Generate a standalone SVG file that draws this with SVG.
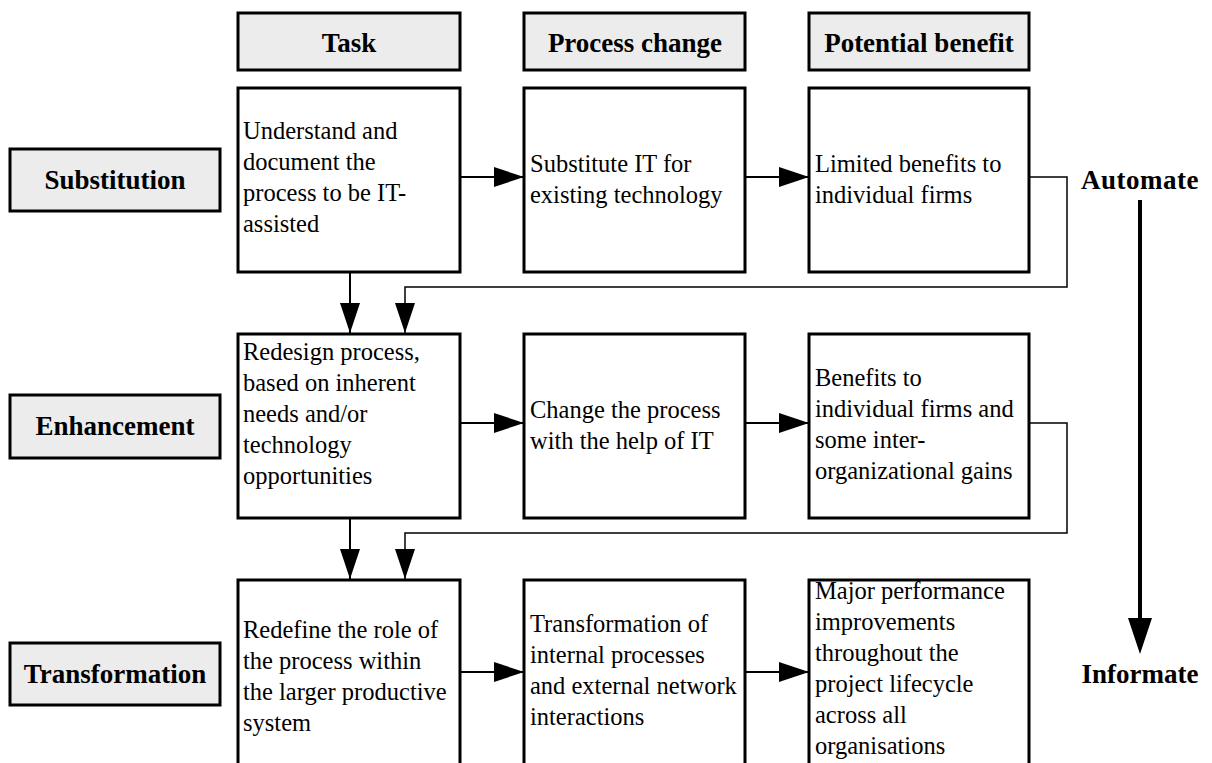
<svg xmlns="http://www.w3.org/2000/svg" width="1212" height="763" viewBox="0 0 1212 763">
<defs>
<style>
.hdr{fill:#ececec;stroke:#000;stroke-width:3}
.box{fill:#fff;stroke:#000;stroke-width:3}
.bt{font-family:"Liberation Serif","Times New Roman",serif;font-weight:bold;font-size:27px;fill:#000}
.tx{font-family:"Liberation Serif","Times New Roman",serif;font-size:24.5px;fill:#000}
.ar{fill:none;stroke:#000;stroke-width:2}
.fb{fill:none;stroke:#000;stroke-width:1.5}
</style>
<marker id="ah" markerUnits="userSpaceOnUse" markerWidth="30" markerHeight="20" refX="30" refY="10" orient="auto" viewBox="0 0 30 20">
<path d="M0,0 L30,10 L0,20 z" fill="#000"/>
</marker>
</defs>
<rect width="1212" height="763" fill="#fff"/>

<g id="hdr-task"><rect class="hdr" x="238" y="13" width="222" height="57"/><text class="bt" x="349" y="52" text-anchor="middle">Task</text></g>
<g id="hdr-process"><rect class="hdr" x="524" y="13" width="221" height="57"/><text class="bt" x="635" y="52" text-anchor="middle">Process change</text></g>
<g id="hdr-benefit"><rect class="hdr" x="809" y="13" width="220" height="57"/><text class="bt" x="919" y="52" text-anchor="middle">Potential benefit</text></g>

<g id="lbl-substitution"><rect class="hdr" x="10" y="149" width="210" height="62"/><text class="bt" x="115" y="189" text-anchor="middle">Substitution</text></g>
<g id="lbl-enhancement"><rect class="hdr" x="10" y="395" width="210" height="63"/><text class="bt" x="115" y="435" text-anchor="middle">Enhancement</text></g>
<g id="lbl-transformation"><rect class="hdr" x="10" y="643" width="210" height="62"/><text class="bt" x="115" y="683" text-anchor="middle">Transformation</text></g>

<g id="r1-task"><rect class="box" x="238" y="88" width="222" height="184"/>
<text class="tx" x="243"><tspan x="243" y="139">Understand and</tspan><tspan x="243" y="170">document the</tspan><tspan x="243" y="201">process to be IT-</tspan><tspan x="243" y="232">assisted</tspan></text></g>
<g id="r1-process"><rect class="box" x="524" y="88" width="221" height="184"/>
<text class="tx"><tspan x="530" y="172">Substitute IT for</tspan><tspan x="530" y="203">existing technology</tspan></text></g>
<g id="r1-benefit"><rect class="box" x="809" y="88" width="220" height="184"/>
<text class="tx"><tspan x="815" y="172">Limited benefits to</tspan><tspan x="815" y="203">individual firms</tspan></text></g>

<g id="r2-task"><rect class="box" x="238" y="334" width="222" height="184"/>
<text class="tx"><tspan x="243" y="360">Redesign process,</tspan><tspan x="243" y="391">based on inherent</tspan><tspan x="243" y="422">needs and/or</tspan><tspan x="243" y="453">technology</tspan><tspan x="243" y="484">opportunities</tspan></text></g>
<g id="r2-process"><rect class="box" x="524" y="334" width="221" height="184"/>
<text class="tx"><tspan x="530" y="418">Change the process</tspan><tspan x="530" y="449">with the help of IT</tspan></text></g>
<g id="r2-benefit"><rect class="box" x="809" y="334" width="220" height="184"/>
<text class="tx"><tspan x="815" y="386">Benefits to</tspan><tspan x="815" y="417">individual firms and</tspan><tspan x="815" y="448">some inter-</tspan><tspan x="815" y="479">organizational gains</tspan></text></g>

<g id="r3-task"><rect class="box" x="238" y="580" width="222" height="200"/>
<text class="tx"><tspan x="243" y="638">Redefine the role of</tspan><tspan x="243" y="669">the process within</tspan><tspan x="243" y="700">the larger productive</tspan><tspan x="243" y="731">system</tspan></text></g>
<g id="r3-process"><rect class="box" x="524" y="580" width="221" height="200"/>
<text class="tx"><tspan x="530" y="632">Transformation of</tspan><tspan x="530" y="663">internal processes</tspan><tspan x="530" y="694">and external network</tspan><tspan x="530" y="725">interactions</tspan></text></g>
<g id="r3-benefit"><rect class="box" x="809" y="580" width="220" height="200"/>
<text class="tx"><tspan x="815" y="599">Major performance</tspan><tspan x="815" y="630">improvements</tspan><tspan x="815" y="661">throughout the</tspan><tspan x="815" y="692">project lifecycle</tspan><tspan x="815" y="723">across all</tspan><tspan x="815" y="754">organisations</tspan></text></g>

<g id="side-labels">
<text class="bt" x="1140" y="189" text-anchor="middle" letter-spacing="0.5">Automate</text>
<text class="bt" x="1140" y="683" text-anchor="middle">Informate</text>
</g>

<g id="connectors">
<line class="ar" x1="460" y1="177" x2="524" y2="177" marker-end="url(#ah)"/>
<line class="ar" x1="745" y1="177" x2="809" y2="177" marker-end="url(#ah)"/>
<line class="ar" x1="460" y1="423" x2="524" y2="423" marker-end="url(#ah)"/>
<line class="ar" x1="745" y1="423" x2="809" y2="423" marker-end="url(#ah)"/>
<line class="ar" x1="460" y1="672" x2="524" y2="672" marker-end="url(#ah)"/>
<line class="ar" x1="745" y1="672" x2="809" y2="672" marker-end="url(#ah)"/>
<line class="ar" x1="350" y1="272" x2="350" y2="333" marker-end="url(#ah)"/>
<line class="ar" x1="350" y1="518" x2="350" y2="579" marker-end="url(#ah)"/>
<path class="fb" d="M1029,177 H1067 V287 H405 V333" marker-end="url(#ah)"/>
<path class="fb" d="M1029,423 H1067 V533 H405 V579" marker-end="url(#ah)"/>
<line x1="1140" y1="200" x2="1140" y2="622" stroke="#000" stroke-width="4"/>
<polygon points="1128,618 1152,618 1140,654" fill="#000"/>
</g>
</svg>
